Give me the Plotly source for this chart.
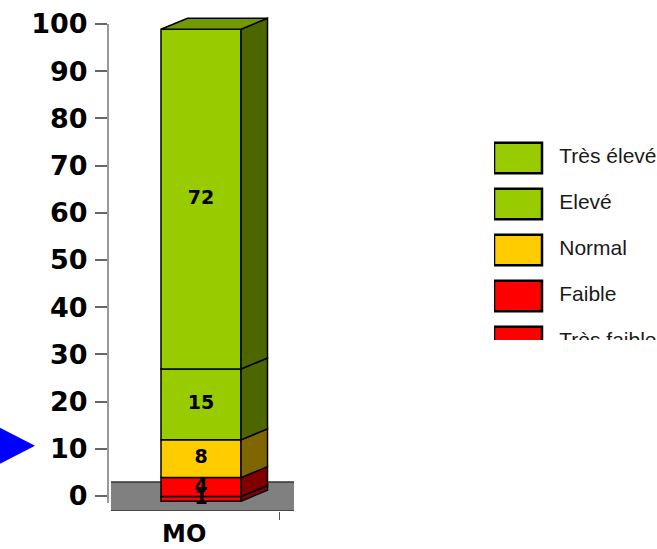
import plotly.graph_objects as go

# ---- data -------------------------------------------------------------
category = "MO"
levels = ["Très faible", "Faible", "Normal", "Elevé", "Très élevé"]
values = [1, 4, 8, 15, 72]
y_ticks = [0, 10, 20, 30, 40, 50, 60, 70, 80, 90, 100]
pointer_value = 10

# ---- styles -----------------------------------------------------------
front_colors = ["#FF0000", "#FF0000", "#FFCC00", "#99CC00", "#99CC00"]
side_colors = ["#800000", "#800000", "#806600", "#4D6600", "#4D6600"]
top_color = "#739900"
edge = dict(color="black", width=1.5)

BAR_X = 0.0          # category position on the numeric x axis
BAR_W = 0.86         # width of the front face
DEPTH_X = 0.285      # oblique depth of the box, x units
DEPTH_Y = 2.33       # oblique depth of the box, y units
FRONT_SHIFT = -1.1   # front face sits slightly in front of the axis plane
LABEL_X = -0.18      # horizontal position of the category label
EDGE_TICK_X = 0.84   # category boundary tick

bold = "DejaVu Sans, Verdana, sans-serif"

fig = go.Figure()

# cumulative stack bounds
lows, highs = [], []
acc = 0
for v in values:
    lows.append(acc)
    acc += v
    highs.append(acc)

x0 = BAR_X - BAR_W / 2
x1 = BAR_X + BAR_W / 2

# front faces
for lvl, v, lo, col in zip(levels, values, lows, front_colors):
    fig.add_trace(go.Bar(
        x=[BAR_X], y=[v], base=[lo + FRONT_SHIFT], width=BAR_W,
        marker=dict(color=col, line=edge), name=lvl,
        showlegend=False, hoverinfo="skip", xaxis="x", yaxis="y",
    ))

# side faces
for lvl, lo, hi, col in zip(levels, lows, highs, side_colors):
    a, b = lo + FRONT_SHIFT, hi + FRONT_SHIFT
    fig.add_trace(go.Scatter(
        x=[x1, x1 + DEPTH_X, x1 + DEPTH_X, x1, x1],
        y=[a, a + DEPTH_Y, b + DEPTH_Y, b, a],
        mode="lines", fill="toself", fillcolor=col, line=edge,
        showlegend=False, hoverinfo="skip", xaxis="x", yaxis="y",
    ))

# top face
top = highs[-1] + FRONT_SHIFT
fig.add_trace(go.Scatter(
    x=[x0, x1, x1 + DEPTH_X, x0 + DEPTH_X, x0],
    y=[top, top, top + DEPTH_Y, top + DEPTH_Y, top],
    mode="lines", fill="toself", fillcolor=top_color, line=edge,
    showlegend=False, hoverinfo="skip", xaxis="x", yaxis="y",
))

# value labels in the middle of each segment
fig.add_trace(go.Scatter(
    x=[BAR_X] * len(values),
    y=[(lo + hi) / 2 + FRONT_SHIFT for lo, hi in zip(lows, highs)],
    text=[str(v) for v in values], mode="text",
    textfont=dict(family=bold, size=19, color="black", weight="bold"),
    showlegend=False, hoverinfo="skip", cliponaxis=False,
    xaxis="x", yaxis="y",
))

# ---- legend panel (top item first) -----------------------------------
leg_levels = levels[::-1]
leg_colors = front_colors[::-1]
rows = list(range(len(leg_levels)))
fig.add_trace(go.Bar(
    y=rows, x=[1] * len(rows), base=[0] * len(rows), orientation="h",
    width=0.66, marker=dict(color=leg_colors, line=dict(color="black", width=2.5)),
    showlegend=False, hoverinfo="skip", xaxis="x3", yaxis="y3",
))
fig.add_trace(go.Scatter(
    y=rows, x=[1.36] * len(rows), text=leg_levels, mode="text",
    textposition="middle right",
    textfont=dict(family="Liberation Sans Narrow, Liberation Sans, Arial, sans-serif",
                  size=21, color="#1a1a1a"),
    showlegend=False, hoverinfo="skip", cliponaxis=True,
    xaxis="x3", yaxis="y3",
))

# ---- decorations ------------------------------------------------------
shapes = [
    # chart floor
    dict(type="rect", xref="x domain", x0=0.016, x1=1.0,
         yref="y", ysizemode="pixel", yanchor=0, y0=-15, y1=14,
         fillcolor="#808080", line=dict(width=0), layer="below"),
    dict(type="line", xref="x domain", x0=0.016, x1=1.0,
         yref="y", ysizemode="pixel", yanchor=0, y0=14, y1=14,
         line=dict(color="#333333", width=1.5), layer="below"),
    dict(type="line", xref="x domain", x0=0.016, x1=1.0,
         yref="y", ysizemode="pixel", yanchor=0, y0=-15, y1=-15,
         line=dict(color="#333333", width=1.5), layer="below"),
    # value axis line
    dict(type="line", xref="x domain", x0=0, x1=0, yref="y", y0=-1.5, y1=100,
         line=dict(color="#555555", width=1.2)),
    # blue pointer next to the 10 mark
    dict(type="path", xref="x domain", xsizemode="pixel", xanchor=0,
         yref="y", ysizemode="pixel", yanchor=pointer_value,
         path="M-73,3 L-125,29.7 L-125,-23.7 Z",
         fillcolor="#0000FF", line=dict(width=0)),
]

fig.update_layout(
    width=657, height=549,
    margin=dict(l=108, r=0, t=14, b=38, autoexpand=False),
    paper_bgcolor="white", plot_bgcolor="rgba(0,0,0,0)",
    barmode="overlay",
    showlegend=False,
    shapes=shapes,
    xaxis=dict(domain=[0, 186 / 549], range=[-1, 1], showgrid=False,
               zeroline=False, showline=False, automargin=False,
               tickmode="array", tickvals=[LABEL_X], ticktext=[category],
               ticks="", ticklabelstandoff=6,
               tickfont=dict(family=bold, size=24, color="black", weight="bold"),
               minor=dict(tickmode="array", tickvals=[EDGE_TICK_X], ticks="outside",
                          ticklen=8, tickcolor="#555555", tickwidth=1.2)),
    yaxis=dict(range=[-3.178, 102.12], showgrid=False, zeroline=False,
               showline=False, automargin=False,
               tickmode="array", tickvals=y_ticks,
               ticks="outside", ticklen=12, tickcolor="#666666", tickwidth=1.5,
               ticklabelstandoff=2,
               tickfont=dict(family=bold, size=27, color="black", weight="bold")),
    xaxis3=dict(domain=[386 / 549, 1], range=[0, 163 / 48], visible=False,
                anchor="y3"),
    yaxis3=dict(domain=[171 / 497, 381 / 497], range=[3.957, -0.609],
                visible=False, anchor="x3"),
)

fig.write_html("out.html")
